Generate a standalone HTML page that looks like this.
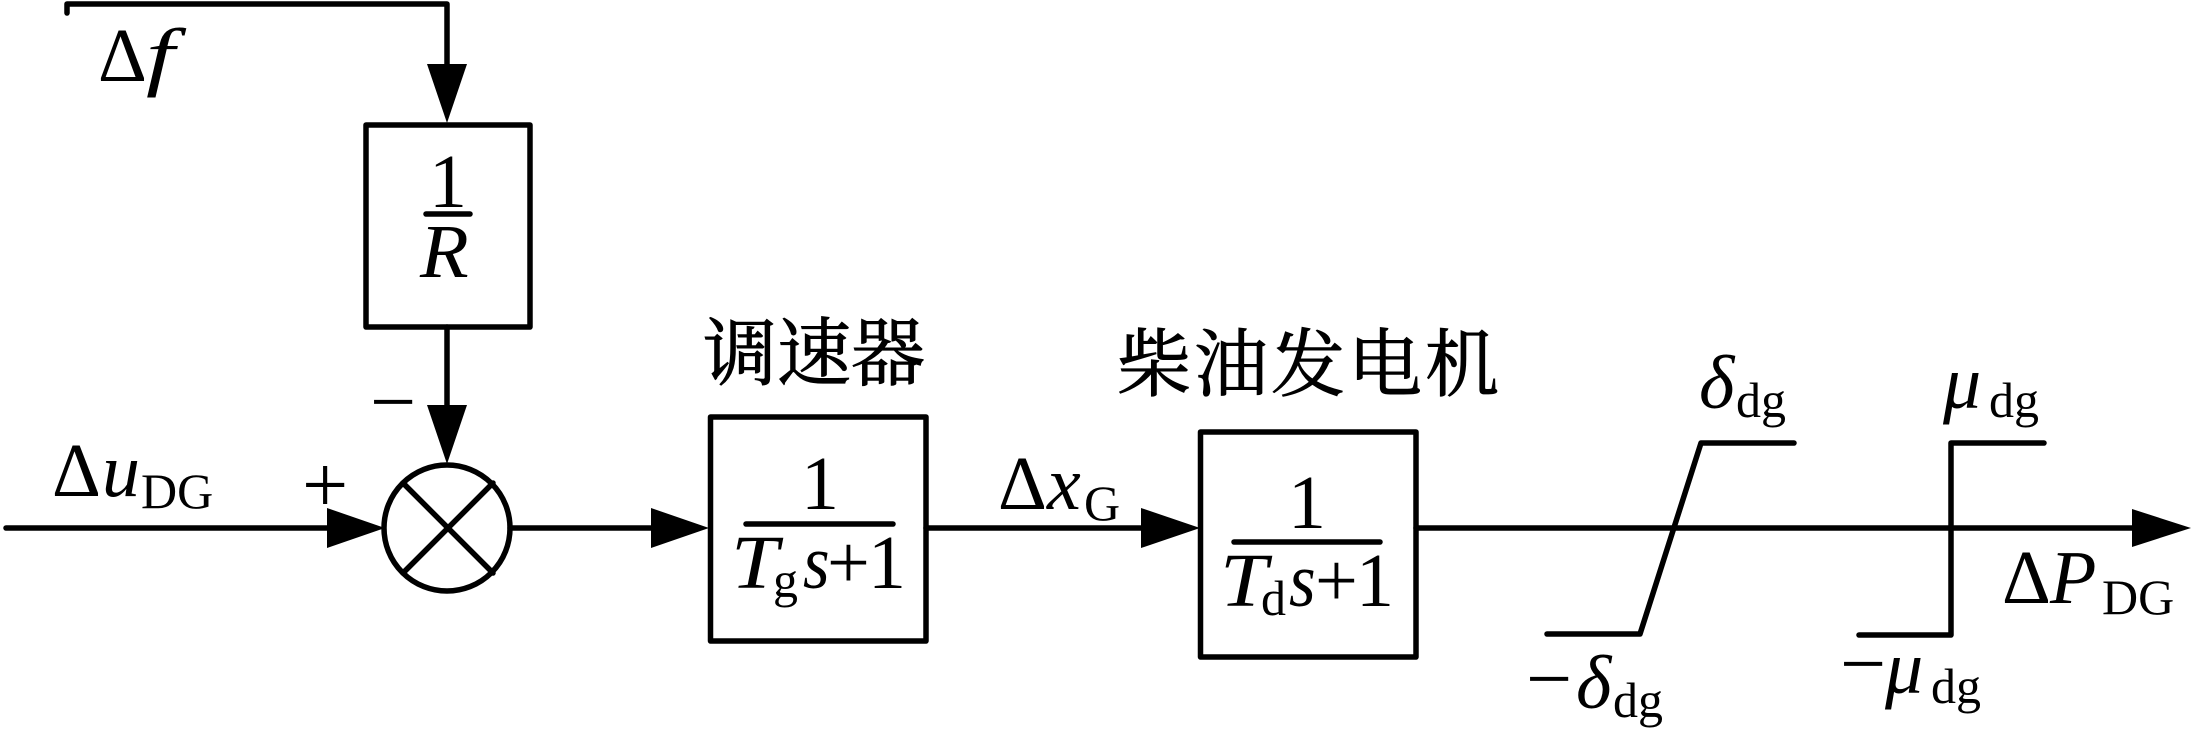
<!DOCTYPE html>
<html><head><meta charset="utf-8"><style>
html,body{margin:0;padding:0;background:#fff;width:2195px;height:734px;overflow:hidden}
svg{display:block}
text{font-family:"Liberation Serif","Noto Serif CJK SC",serif;fill:#000}
.m{font-size:76px}.i{font-size:76px;font-style:italic}.s{font-size:50px}
.c{font-size:74px;stroke:#000;stroke-width:1}
.p{font-size:76px}
line,polyline,rect,circle{stroke:#000;stroke-width:5.5;fill:none;stroke-linecap:round;stroke-linejoin:round}
rect,circle{fill:#fff}
polygon{fill:#000}
</style></head><body>
<svg width="2195" height="734" viewBox="0 0 2195 734" xmlns="http://www.w3.org/2000/svg">
<polyline points="67,13 67,4 447,4 447,66"/>
<polygon points="427,64 467,64 447,123"/>
<rect x="366" y="125" width="164" height="202"/>
<line x1="447" y1="327" x2="447" y2="407"/>
<polygon points="427,405 467,405 447,464"/>
<line x1="6" y1="528" x2="330" y2="528"/>
<polygon points="327,508 385,528 327,548"/>
<circle cx="447" cy="528" r="63"/>
<line x1="403" y1="483" x2="493" y2="573"/>
<line x1="493" y1="483" x2="403" y2="573"/>
<line x1="510" y1="528" x2="655" y2="528"/>
<polygon points="651,508 709,528 651,548"/>
<rect x="710.5" y="417" width="215.5" height="224"/>
<line x1="926" y1="528" x2="1145" y2="528"/>
<polygon points="1141,508 1200,528 1141,548"/>
<rect x="1200.5" y="432" width="215.5" height="225"/>
<line x1="1416" y1="528" x2="2136" y2="528"/>
<polygon points="2132,509 2191,528 2132,547"/>
<polyline points="1547,634 1640,634 1701,443 1794,443"/>
<polyline points="1859,635 1951,635 1951,443 2044,443"/>
<line x1="426" y1="214" x2="470" y2="214"/>
<line x1="746" y1="524" x2="893" y2="524"/>
<line x1="1234" y1="542" x2="1380" y2="542"/>

<text class="m" x="98" y="81">Δ</text><text class="i" transform="translate(146 81) scale(1.35 1)">f</text>
<text class="m" x="429" y="207">1</text>
<text class="i" transform="translate(420 277) scale(1.05 1)">R</text>
<text class="m" x="52" y="496">Δ</text><text class="i" x="102" y="496">u</text><text class="s" x="141" y="508">DG</text>
<text x="302" y="512" style="font-size:82px">+</text>
<text x="370" y="429" style="font-size:82px">−</text>
<text class="c" x="703" y="379">调速器</text>
<text class="c" x="1117" y="390" style="letter-spacing:3px">柴油发电机</text>
<text class="m" x="801" y="509">1</text>
<text class="i" transform="translate(731 588) scale(1.12 1)">T</text><text class="s" x="773" y="597">g</text><text class="i" transform="translate(803 588) scale(.9 1)">s</text><text class="p" x="827" y="588">+</text><text class="p" x="868" y="588">1</text>
<text class="m" x="1288" y="528">1</text>
<text class="i" transform="translate(1220 606) scale(1.12 1)">T</text><text class="s" x="1261" y="615">d</text><text class="i" transform="translate(1289 606) scale(.9 1)">s</text><text class="p" x="1315" y="606">+</text><text class="p" x="1356" y="606">1</text>
<text class="m" x="998" y="509">Δ</text><text class="i" x="1047" y="509">x</text><text class="s" x="1084" y="520">G</text>
<text class="i" x="1699" y="408">δ</text><text class="s" x="1736" y="417">dg</text>
<text class="i" x="1943" y="408">μ</text><text class="s" x="1989" y="417">dg</text>
<text x="1526" y="706" style="font-size:82px">−</text>
<text class="i" x="1576" y="708">δ</text><text class="s" x="1613" y="717">dg</text>
<text x="1840" y="691" style="font-size:82px">−</text>
<text class="i" x="1885" y="693">μ</text><text class="s" x="1931" y="703">dg</text>
<text class="m" x="2002" y="603">Δ</text><text class="i" x="2050" y="603">P</text><text class="s" x="2102" y="614">DG</text>
</svg>
</body></html>
